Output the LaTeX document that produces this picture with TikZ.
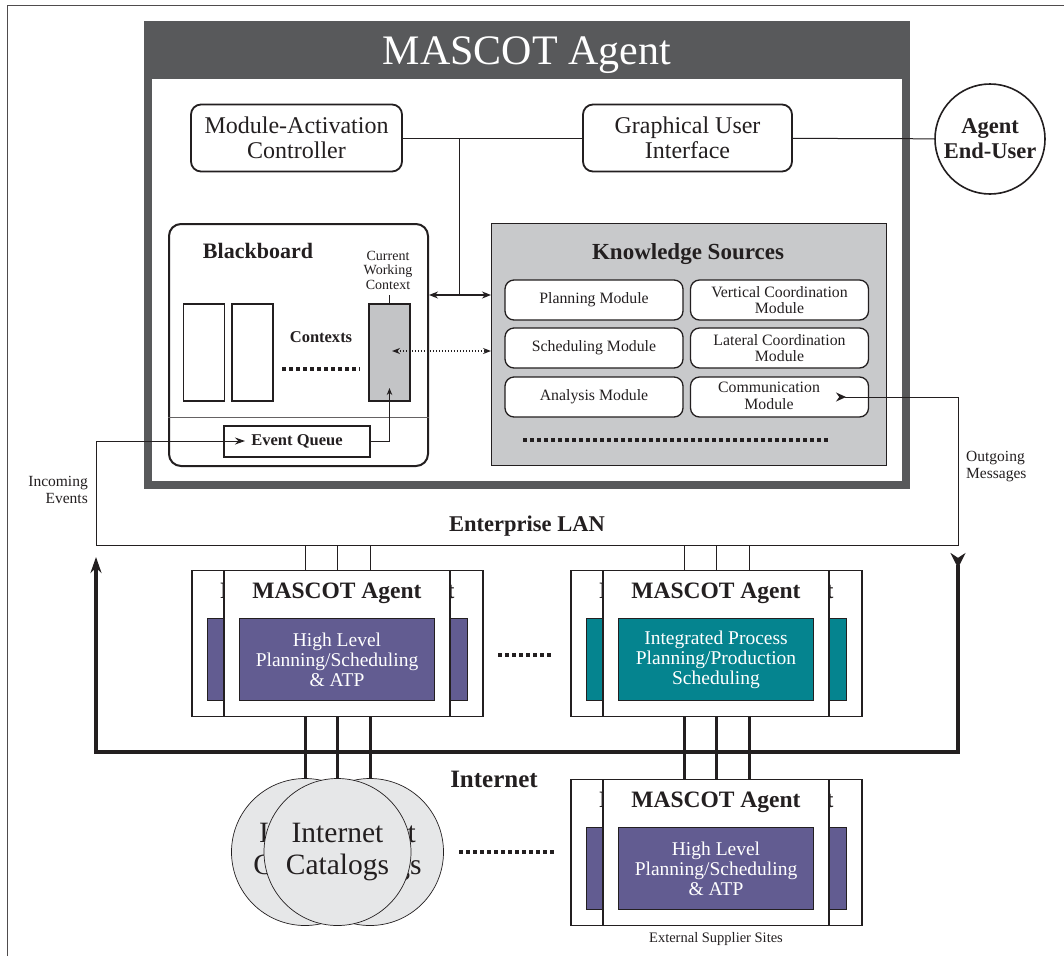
\documentclass[tikz,border=0pt]{standalone}
\usepackage{fontspec}
\setmainfont{Liberation Serif}
\usetikzlibrary{arrows.meta}
\definecolor{framegray}{HTML}{58595B}
\definecolor{ksgray}{HTML}{C8C9CB}
\definecolor{ctxgray}{HTML}{C3C4C6}
\definecolor{catgray}{HTML}{E6E7E8}
\definecolor{purp}{HTML}{625C91}
\definecolor{tealbox}{HTML}{05848F}
\definecolor{ink}{HTML}{231F20}
\newcommand{\fsz}[2]{\fontsize{#1}{#2}\selectfont}
\newcommand{\agstack}[5]{%
  \foreach \xx/\nm in {#2-32/l,#2+33/r,#2/m}{%
    \node[agbox, anchor=north] (#1\nm) at (\xx,#3) {};
    \node[agtitle, anchor=base] (#1\nm t) at (\xx,#3+28) {MASCOT Agent};
    \node[inbox, fill=#4, anchor=north] (#1\nm i) at (\xx,#3+48) {#5};
  }}
\begin{document}
\begin{tikzpicture}[x=1pt,y=-1pt,
  every node/.style={text=ink, inner sep=0pt},
  rbox/.style={draw=ink, line width=1.8, rounded corners=10, fill=white, align=center, font=\fsz{24}{25.5}},
  modbox/.style={draw=ink, line width=1.3, rounded corners=9, fill=white, minimum width=178, minimum height=40, align=center, font=\fsz{15.8}{16.5}},
  ctxbox/.style={draw=ink, line width=1.3, minimum width=41, minimum height=97},
  agbox/.style={draw=ink, line width=1.2, fill=white, minimum width=226, minimum height=146},
  agtitle/.style={font=\bfseries\fsz{23.5}{25}},
  inbox/.style={draw=ink, line width=1.2, minimum width=195, minimum height=82, text=white, align=center, font=\fsz{19.5}{20}},
  catc/.style={circle, draw=ink, line width=0.7, fill=catgray, minimum size=147, align=center, font=\fsz{29.5}{32}},
  bigdots/.style={draw=ink, line width=3.2, dash pattern=on 3.5 off 3.5},
  thinln/.style={draw=ink, line width=1},
  thickln/.style={draw=ink, line width=3.2},
  smalllbl/.style={font=\fsz{15.5}{17}}
]
\useasboundingbox (0,0) rectangle (1064,956);
\fill[white] (0,0) rectangle (1064,956);
\draw[draw=ink!80, line width=1] (7,956) -- (7,5) -- (1064,5);

% main agent frame
\node[fill=framegray, minimum width=766, minimum height=468, anchor=north west] (agent) at (144,21) {};
\node[fill=white, minimum width=750, minimum height=402, anchor=north west] (agentin) at (152,79) {};
\node[anchor=base, text=white, font=\fsz{42}{44}] (title) at (527,64) {MASCOT Agent};

\node[rbox, minimum width=211, minimum height=67] (mac) at (296.5,138) {Module-Activation\\Controller};
\node[rbox, minimum width=209, minimum height=67] (gui) at (687.5,138) {Graphical User\\Interface};
\node[circle, draw=ink, line width=1.6, fill=white, minimum size=110, align=center, font=\bfseries\fsz{22.5}{25}] (user) at (990,139) {Agent\\End-User};

% blackboard
\node[draw=ink, line width=2, rounded corners=12, fill=white, minimum width=259, minimum height=242, anchor=north west] (bb) at (168,223) {};
\node[anchor=base, font=\bfseries\fsz{22}{24}] (bbt) at (258,258) {Blackboard};
\node[ctxbox, fill=white] (c1) at (204,352.5) {};
\node[ctxbox, fill=white] (c2) at (252.5,352.5) {};
\node[ctxbox, fill=ctxgray] (cur) at (389.5,352.5) {};
\node[font=\fsz{14}{14.5}, align=center] (cwc) at (388,270) {Current\\Working\\Context};
\draw[thinln] (cur.north) -- ++(0,-8);
\node[anchor=base, font=\bfseries\fsz{16.5}{18}] (ctxt) at (321,342) {Contexts};
\coordinate (d1) at (282,369); \coordinate (d2) at (360,369);
\draw[bigdots] (d1) -- (d2);
\coordinate (dv) at (0,417);
\draw[draw=ink!70, line width=0.8] (bb.west |- dv) -- (bb.east |- dv);
\node[draw=ink, line width=1.3, fill=white, minimum width=146, minimum height=31, font=\bfseries\fsz{16.5}{18}] (eq) at (297,441.5) {Event Queue};
\coordinate (cq) at (389.5,388);
\draw[thinln, -{Stealth[length=7,width=5.5]}] (eq.east) -| (cq);

% knowledge sources
\node[draw=ink, line width=1.3, fill=ksgray, minimum width=395, minimum height=242, anchor=north west] (ks) at (491,223) {};
\node[anchor=base, font=\bfseries\fsz{23}{24}] (kst) at (688,259) {Knowledge Sources};
\node[modbox] (plan) at (594,300) {Planning Module};
\node[modbox] (vert) at (779.5,300) {Vertical Coordination\\Module};
\node[modbox] (sched) at (594,348) {Scheduling Module};
\node[modbox] (lat) at (779.5,348) {Lateral Coordination\\Module};
\node[modbox] (ana) at (594,397) {Analysis Module};
\node[modbox] (comm) at (779.5,397) {};
\node[font=\fsz{15.8}{16.5}, align=center] (commt) at (769,396) {Communication\\Module};
\coordinate (k1) at (523,440); \coordinate (k2) at (828,440);
\draw[bigdots] (k1) -- (k2);

% connectors inside agent
\draw[thinln] (mac) -- (gui);
\draw[thinln] (gui) -- (user);
\coordinate (j1) at (459,138);
\coordinate (j2) at (459,295);
\draw[thinln] (j1) -- (j2);
\draw[thinln, line width=1.3, {Stealth[length=9,width=7]}-{Stealth[length=9,width=7]}] (j2 -| bb.east) -- (j2 -| ks.west);
\coordinate (ct) at (392,351);
\draw[draw=ink, line width=1.5, dash pattern=on 1.5 off 1.5, {Stealth[length=8,width=6]}-{Stealth[length=8,width=6]}] (ct) -- (ct -| ks.west);

% enterprise LAN loop
\coordinate (ctip) at (836,397);
\coordinate (lanR) at (958,545);
\coordinate (lanL) at (96,545);
\coordinate (eqin) at (245,441);
\draw[thinln, {Stealth[reversed,length=10,width=9]}-{Stealth[length=10,width=7]}] (ctip) -| (lanR) -- (lanL) |- (eqin);
\node[anchor=east, align=right, smalllbl] (inc) at (88,490) {Incoming\\Events};
\node[anchor=west, align=left, smalllbl] (outg) at (966,467) {Outgoing\\Messages};
\node[anchor=base, font=\bfseries\fsz{22.5}{24}] (lan) at (527,531) {Enterprise LAN};

% internet
\coordinate (il) at (96,752); \coordinate (ir) at (958,752);
\coordinate (ilt) at (96,557); \coordinate (irt) at (958,553);
\draw[thickln, {Stealth[length=16,width=11]}-{Stealth[reversed,length=15,width=15]}] (ilt) -- (il) -- (ir) -- (irt);
\node[anchor=base, font=\bfseries\fsz{25}{26}] (inet) at (494,787) {Internet};

% agent stacks
\agstack{a1}{337}{570}{purp}{High Level\\Planning/Scheduling\\\& ATP}
\agstack{a2}{716}{570}{tealbox}{Integrated Process\\Planning/Production\\Scheduling}
\agstack{a3}{716}{779}{purp}{High Level\\Planning/Scheduling\\\& ATP}
\foreach \s in {a1,a2}{\foreach \nm in {l,m,r}{%
  \draw[thinln] (\s\nm.north |- lanL) -- (\s\nm.north);
  \draw[thickln, line width=3] (\s\nm.south) -- (\s\nm.south |- il);
}}
\foreach \nm in {l,m,r}{\draw[thickln, line width=3] (a3\nm.north |- il) -- (a3\nm.north);}

% catalogs
\node[catc] (cat1) at (305,852) {Internet\\Catalogs};
\node[catc] (cat3) at (370,852) {Internet\\Catalogs};
\node[catc] (cat2) at (337.5,852) {Internet\\Catalogs};
\foreach \i in {1,2,3}{\draw[thickln, line width=3] (cat\i.north |- il) -- (cat\i.north);}

\coordinate (s1) at (498,655); \coordinate (s2) at (553,655);
\draw[bigdots] (s1) -- (s2);
\coordinate (s3) at (459,852); \coordinate (s4) at (555,852);
\draw[bigdots] (s3) -- (s4);
\node[anchor=base, font=\fsz{14.5}{15}] (ext) at (716,942) {External Supplier Sites};
\end{tikzpicture}
\end{document}
